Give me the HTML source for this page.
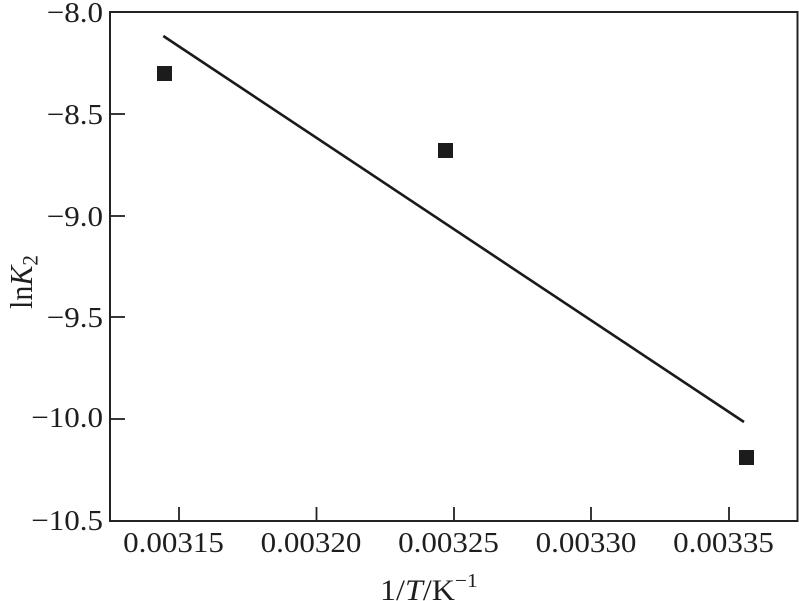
<!DOCTYPE html>
<html>
<head>
<meta charset="utf-8">
<style>
  html,body{margin:0;padding:0;background:#fff;}
  svg{display:block;}
  text{font-family:"Liberation Serif","Times New Roman",serif;fill:#1e1e1e;}
</style>
</head>
<body>
<svg width="799" height="601" viewBox="0 0 799 601" xmlns="http://www.w3.org/2000/svg">
  <rect x="0" y="0" width="799" height="601" fill="#fff"/>
  <!-- plot frame -->
  <rect x="110" y="12" width="687.5" height="509" fill="none" stroke="#222" stroke-width="2"/>

  <!-- y ticks -->
  <g stroke="#222" stroke-width="1.8">
    <line x1="110" y1="114" x2="125" y2="114"/>
    <line x1="110" y1="216" x2="125" y2="216"/>
    <line x1="110" y1="317" x2="125" y2="317"/>
    <line x1="110" y1="419" x2="125" y2="419"/>
  </g>
  <!-- x ticks -->
  <g stroke="#222" stroke-width="1.8">
    <line x1="179" y1="521" x2="179" y2="507"/>
    <line x1="316.5" y1="521" x2="316.5" y2="507"/>
    <line x1="454" y1="521" x2="454" y2="507"/>
    <line x1="591" y1="521" x2="591" y2="507"/>
    <line x1="729" y1="521" x2="729" y2="507"/>
  </g>

  <!-- y tick labels -->
  <g font-size="29" text-anchor="end">
    <text transform="translate(103,22) scale(1.07,1)">−8.0</text>
    <text transform="translate(103,124) scale(1.07,1)">−8.5</text>
    <text transform="translate(103,226) scale(1.07,1)">−9.0</text>
    <text transform="translate(103,327) scale(1.07,1)">−9.5</text>
    <text transform="translate(103,427) scale(1.07,1)">−10.0</text>
    <text transform="translate(103,530) scale(1.07,1)">−10.5</text>
  </g>

  <!-- x tick labels -->
  <g font-size="29" text-anchor="middle">
    <text transform="translate(173.5,552) scale(1.07,1)">0.00315</text>
    <text transform="translate(311,552) scale(1.07,1)">0.00320</text>
    <text transform="translate(448.5,552) scale(1.07,1)">0.00325</text>
    <text transform="translate(586,552) scale(1.07,1)">0.00330</text>
    <text transform="translate(723.5,552) scale(1.07,1)">0.00335</text>
  </g>

  <!-- x axis title -->
  <text transform="translate(380,600) scale(1.07,1)" font-size="30">1/<tspan font-style="italic">T</tspan>/K<tspan font-size="20" dy="-13">−1</tspan></text>

  <!-- y axis title -->
  <text transform="translate(32,309) rotate(-90) scale(1,1.07)" font-size="30">ln<tspan font-style="italic">K</tspan><tspan font-size="21" dy="5">2</tspan></text>

  <!-- fit line -->
  <line x1="163.3" y1="36" x2="744" y2="422" stroke="#1a1a1a" stroke-width="2.6"/>

  <!-- markers -->
  <g fill="#1c1c1c">
    <rect x="157" y="66" width="15" height="15"/>
    <rect x="438" y="143" width="15" height="15"/>
    <rect x="739" y="450" width="15" height="15"/>
  </g>
</svg>
</body>
</html>
